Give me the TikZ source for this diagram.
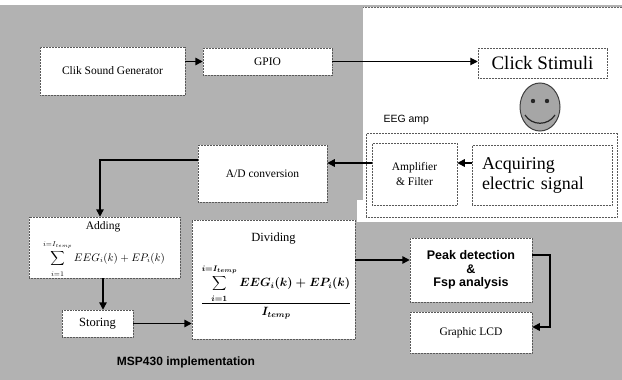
\documentclass[tikz,border=0pt]{standalone}
\usepackage{fontspec}
\setmainfont{Liberation Serif}
\setsansfont{Liberation Sans}
\usetikzlibrary{arrows.meta,shapes.geometric}
\newcommand{\myaddform}{\mbox{$\displaystyle\sum_{\rule{0pt}{8pt}i=1}^{i=I_{temp}\rule[-3pt]{0pt}{0pt}} EEG_i(k)+EP_i(k)$}}
\newcommand{\mydivform}{\mbox{\boldmath$\displaystyle\frac{\displaystyle\sum_{\rule{0pt}{8pt}i=1}^{i=I_{temp}\rule[-3pt]{0pt}{0pt}} EEG_i(k)+EP_i(k)}{I_{temp}}$}}
\begin{document}
\begin{tikzpicture}[x=1pt,y=-1pt,
  box/.style={draw=black!65, densely dotted, line width=0.5pt, fill=white, inner sep=1pt, align=center},
  arr/.style={-{Triangle[length=7.5pt,width=7.5pt]}, line width=1.5pt},
  arrthin/.style={-{Triangle[length=7.5pt,width=7.5pt]}, line width=1pt},
  sm/.style={font=\fontsize{11.5}{14.5}\selectfont},
]
\useasboundingbox (0,0) rectangle (622,380);
% background
\fill[white] (0,0) rectangle (622,380);
\fill[black!30] (0,5) rectangle (622,380);
\fill[white] (363,7) rectangle (622,222);
\fill[white] (357,200) rectangle (364,222);
\draw[black!60, densely dotted, line width=0.5pt] (363,7) -- (622,7);

% top row
\node[box, sm, minimum width=145pt, minimum height=48pt] (clik) at (112.5,71) {Clik Sound Generator};
\node[box, sm, minimum width=129pt, minimum height=27pt] (gpio) at (267.5,61.5) {GPIO};
\node[box, font=\fontsize{19}{22}\selectfont, minimum width=129pt, minimum height=30pt] (stim) at (542.5,63) {Click Stimuli};

% face
\node[draw=black!75, line width=1pt, fill=black!35, ellipse, minimum width=40pt, minimum height=48pt, inner sep=0] (face) at (540,107) {};
\fill[black!85] (533,101) circle (2.2pt) (547,101) circle (2.2pt);
\draw[black!85, line width=1.2pt] (525,115) .. controls (532,126) and (548,126) .. (555,115);

% EEG amp
\node[font=\sffamily\fontsize{10.5}{12}\selectfont, anchor=west] (eeglabel) at (380,120) {EEG amp};
\node[box, minimum width=251pt, minimum height=84pt] (eeg) at (491.5,175) {};
\node[box, sm, minimum width=85pt, minimum height=62pt] (amp) at (414.5,174) {Amplifier\\\& Filter};
\node[box, font=\fontsize{18}{20}\selectfont, align=left, inner xsep=10pt, text width=120pt, minimum height=60pt] (acq) at (542,175) {Acquiring\\electric signal};

% A/D
\node[box, sm, minimum width=129pt, minimum height=57pt] (ad) at (262.5,173.5) {A/D conversion};

% Adding
\node[box, sm, minimum width=151pt, minimum height=61pt] (adding) at (104.5,247.5) {};
\node[sm] (addlabel) at (103,227) {Adding};
\node[font=\fontsize{10.5}{13}\selectfont] (addform) at (104,259) {\myaddform};

% Storing
\node[box, font=\fontsize{12.5}{15}\selectfont, minimum width=71pt, minimum height=27pt] (storing) at (97.5,323.5) {Storing};

% Dividing
\node[box, sm, minimum width=163pt, minimum height=119pt] (dividing) at (273.5,279.5) {};
\node[font=\fontsize{12.5}{15}\selectfont] (divlabel) at (273.5,239) {Dividing};
\node[font=\fontsize{12}{14}\selectfont] (divform) at (276,292) {\mydivform};

% Peak / LCD
\node[box, font=\sffamily\bfseries\fontsize{12.5}{13.5}\selectfont, minimum width=122pt, minimum height=64pt] (peak) at (471,270) {Peak detection\\\&\\Fsp analysis};
\node[box, sm, minimum width=122pt, minimum height=41pt] (lcd) at (471,332.5) {Graphic LCD};

% label
\node[font=\sffamily\bfseries\fontsize{12}{14}\selectfont] (msp) at (186,362) {MSP430 implementation};

% arrows
\draw[arr] (gpio.west -| clik.east) -- (gpio.west);
\draw[arrthin] (gpio.east) -- (gpio.east -| stim.west);
\draw[arr] (acq.west |- 0,163) -- (amp.east |- 0,163);
\draw[arr] (amp.west |- 0,163) -- (ad.east |- 0,163);
\draw[arr] (ad.west |- 0,160) -| (adding.north -| 100,0);
\draw[arr] (adding.south -| 103,0) -- (storing.north -| 103,0);
\draw[arr] (storing.east) -- (storing.east -| dividing.west);
\draw[arr] (dividing.east |- 0,260) -- (peak.west |- 0,260);
\draw[arr] (peak.east |- 0,255) -| (550,327) -- (lcd.east |- 0,327);
\end{tikzpicture}
\end{document}
